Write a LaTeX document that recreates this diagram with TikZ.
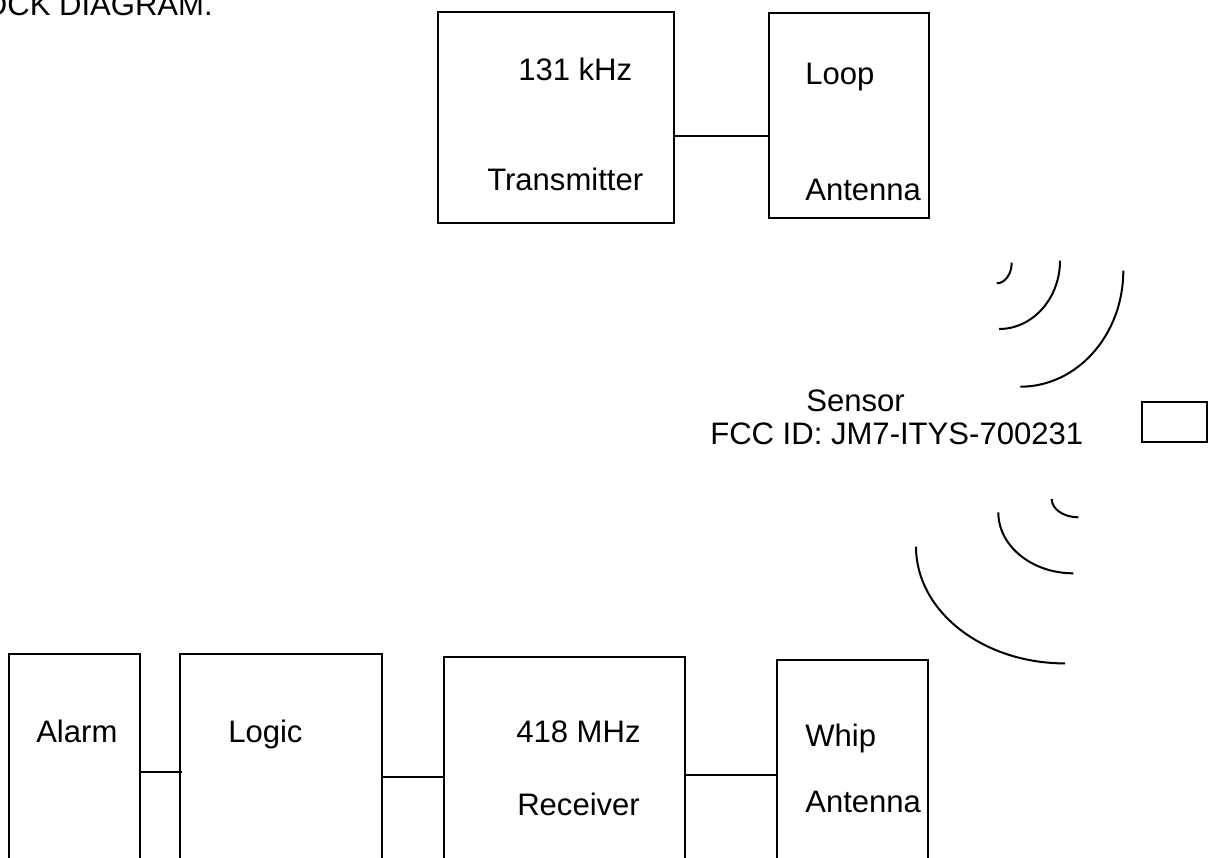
\documentclass[tikz,border=0pt]{standalone}
\usepackage{fontspec}
\setmainfont{Liberation Sans}
\usetikzlibrary{positioning}
\tikzset{
  %% -- block of the diagram --
  BD/block/.style={draw, line width=1.5pt, inner sep=0pt},
  %% -- text inside / beside a block --
  BD/txt/.style={anchor=base west, inner sep=0pt,
    font=\fontsize{23.3}{28}\selectfont},
  %% -- wire between two blocks --
  BD/wire/.style={line width=1.5pt},
  %% -- radio wave arc --
  BD/wave/.style={line width=1.5pt},
}

\begin{document}
\begin{tikzpicture}[x=0.75pt, y=-0.75pt]
\useasboundingbox (0,0) rectangle (1209,857);
\clip (0,0) rectangle (1209,857);

%% Title
\node[BD/txt, anchor=base east] (title) at (213,15) {BLOCK DIAGRAM.};

%% Transmitter side
\node[BD/block, minimum width=177pt, minimum height=158.25pt]
  (tx) at (556,117.5) {};
\node[BD/block, minimum width=120pt, minimum height=154.2pt]
  (loop) at (849,115.5) {};
\node[BD/txt] (txf) at (518,80) {131 kHz};
\node[BD/txt] (txn) at (487,190) {Transmitter};
\node[BD/txt] (loopa) at (805,84) {Loop};
\node[BD/txt] (loopb) at (805,200) {Antenna};
\draw[BD/wire] (tx.east |- 0,136) -- (loop.west |- 0,136);

%% Sensor
\node[BD/block, minimum width=48.75pt, minimum height=30pt]
  (sens) at (1174.2,421.7) {};
\node[BD/txt] (sensa) at (806,411.5) {Sensor};
\node[BD/txt] (sensb) at (710,444) {FCC ID: JM7-ITYS-700231};

%% Waves from the loop antenna
\draw[BD/wave] (1011.7,262.7) arc[start angle=0, end angle=90, x radius=15, y radius=20.6];
\draw[BD/wave] (1060,260.7) arc[start angle=0, end angle=90, x radius=61, y radius=68.3];
\draw[BD/wave] (1123.3,270.7) arc[start angle=0, end angle=90, x radius=103, y radius=116];

%% Waves to the whip antenna
\draw[BD/wave] (1051.7,499) arc[start angle=180, end angle=90, x radius=26.7, y radius=18.3];
\draw[BD/wave] (998.3,512.3) arc[start angle=180, end angle=90, x radius=75, y radius=61];
\draw[BD/wave] (916,546.7) arc[start angle=180, end angle=90, x radius=149, y radius=116.7];

%% Receiver side
\node[BD/block, minimum width=98.25pt, minimum height=169.5pt]
  (alarm) at (74.5,767) {};
\node[BD/block, minimum width=151.5pt, minimum height=169.5pt]
  (logic) at (281,767) {};
\node[BD/block, minimum width=180.75pt, minimum height=167.25pt]
  (rx) at (564.5,768.5) {};
\node[BD/block, minimum width=113.25pt, minimum height=165pt]
  (whip) at (852.5,770) {};
\node[BD/txt] (alarmt) at (36,742) {Alarm};
\node[BD/txt] (logict) at (228,742) {Logic};
\node[BD/txt] (rxf) at (516,742) {418 MHz};
\node[BD/txt] (rxn) at (517,815) {Receiver};
\node[BD/txt] (whipa) at (805,746) {Whip};
\node[BD/txt] (whipb) at (805,812) {Antenna};
\draw[BD/wire] (alarm.east |- 0,772) -- ([xshift=2pt]logic.west |- 0,772);
\draw[BD/wire] (logic.east |- 0,777) -- (rx.west |- 0,777);
\draw[BD/wire] (rx.east |- 0,775) -- (whip.west |- 0,775);
\end{tikzpicture}
\end{document}
